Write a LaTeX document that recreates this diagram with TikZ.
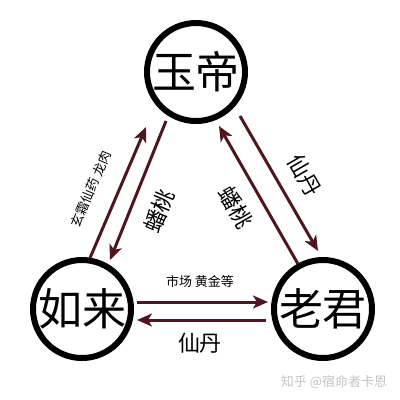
\documentclass[tikz,border=0pt]{standalone}
\usepackage{fontspec}
\newfontfamily\cjk{Noto Sans CJK SC}
\usetikzlibrary{arrows.meta}
\definecolor{maroon}{RGB}{78,22,32}
\definecolor{wm}{RGB}{195,195,195}
\begin{document}
\begin{tikzpicture}[x=1pt,y=-1pt,
  circ/.style={circle,draw=black,line width=6pt,minimum size=98pt,inner sep=0pt,font=\cjk\fontsize{44}{44}\selectfont},
  arr/.style={draw=maroon,line width=3pt,-{Stealth[length=15pt,width=13pt,inset=4pt]}},
  lbl/.style={text=black,inner sep=0pt,font=\cjk\fontsize{22}{22}\selectfont},
  slbl/.style={text=black,inner sep=0pt,font=\cjk\fontsize{13}{13}\selectfont}]
\useasboundingbox (0,0) rectangle (400,400);
\node[circ] (yd) at (196,72) {玉帝};
\node[circ] (rl) at (82,309) {如来};
\node[circ] (lj) at (323,309) {老君};
% left pair
\coordinate (a1) at (90,258);
\coordinate (a2) at (146,127);
\coordinate (b1) at (166,121);
\coordinate (b2) at (110,260);
\draw[arr] (a1) -- (a2);
\draw[arr] (b1) -- (b2);
% right pair
\coordinate (c1) at (298,264);
\coordinate (c2) at (219,126);
\coordinate (d1) at (240,116);
\coordinate (d2) at (318,251);
\draw[arr] (c1) -- (c2);
\draw[arr] (d1) -- (d2);
% bottom pair
\coordinate (e1) at (137,302);
\coordinate (e2) at (268,302);
\coordinate (f1) at (266,320);
\coordinate (f2) at (137,320);
\draw[arr] (e1) -- (e2);
\draw[arr] (f1) -- (f2);
% labels
\node[slbl,rotate=67] (t1) at (91,189) {玄霜仙药 龙肉};
\node[lbl,rotate=67] (t2) at (159,211) {蟠桃};
\node[lbl,rotate=-60] (t3) at (236,207) {蟠桃};
\node[lbl,rotate=-60] (t4) at (305,175) {仙丹};
\node[slbl] (t5) at (200,282) {市场 黄金等};
\node[lbl] (t6) at (200,343) {仙丹};
\node[slbl,text=wm] (w) at (334,382) {知乎 @宿命者卡恩};
\end{tikzpicture}
\end{document}
